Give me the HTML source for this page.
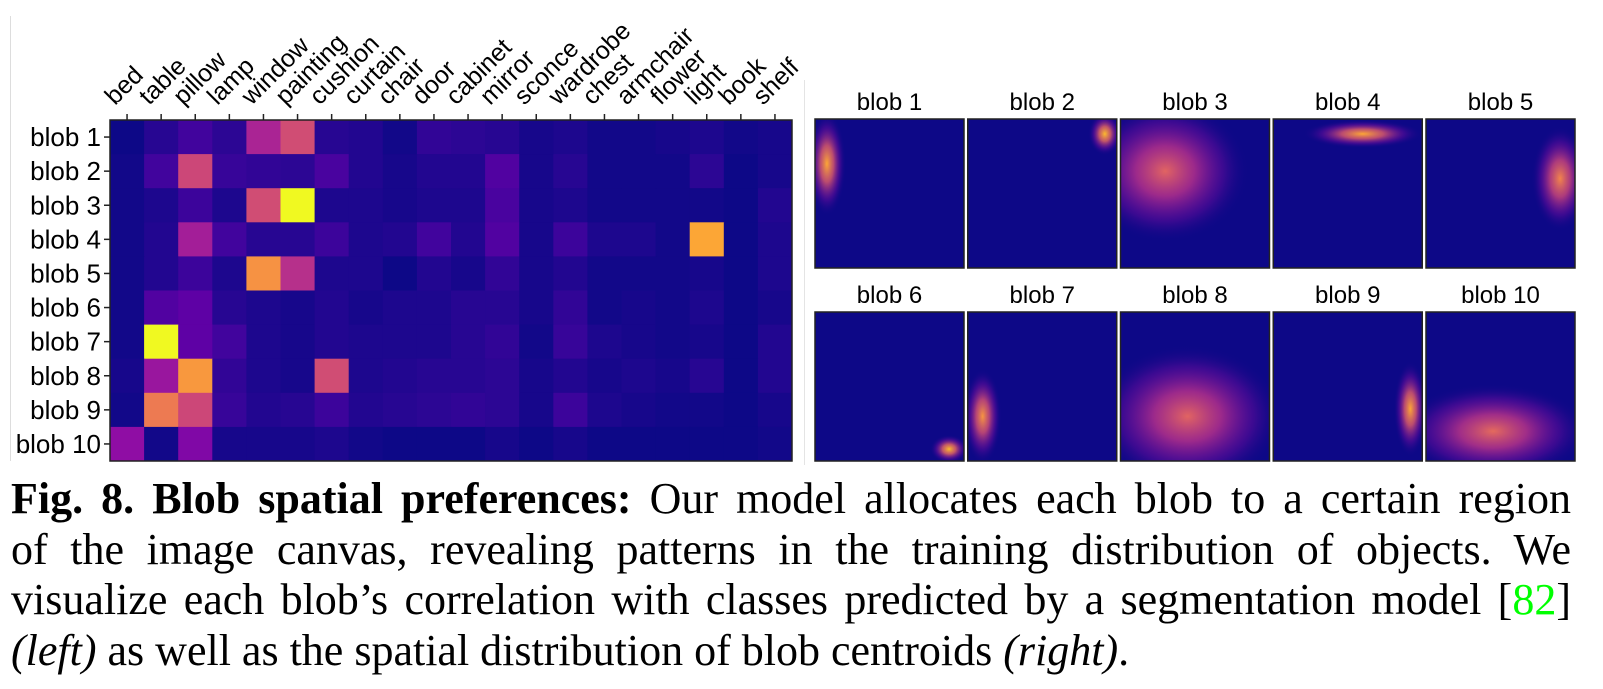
<!DOCTYPE html>
<html><head><meta charset="utf-8"><style>
body{margin:0;background:#fff;width:1603px;height:689px;overflow:hidden;position:relative}
svg{position:absolute;left:0;top:0}
.cap{position:absolute;left:11px;width:1560px;font-family:"Liberation Serif",serif;font-size:44px;color:#000;line-height:50.5px}
.cap div{text-align:justify;text-align-last:justify;white-space:nowrap}
.cap div.last{text-align-last:left}
</style></head><body>
<svg id="chart" width="1603" height="470"></svg>
<div class="cap" style="top:474px">
<div><b>Fig. 8. Blob spatial preferences:</b> Our model allocates each blob to a certain region</div>
<div>of the image canvas, revealing patterns in the training distribution of objects. We</div>
<div>visualize each blob’s correlation with classes predicted by a segmentation model [<span style="color:#00ff00">82</span>]</div>
<div class="last"><i>(left)</i> as well as the spatial distribution of blob centroids <i>(right)</i>.</div>
</div>
<script>
const classes=["bed","table","pillow","lamp","window","painting","cushion","curtain","chair","door","cabinet","mirror","sconce","wardrobe","chest","armchair","flower","light","book","shelf"];
const blobs=["blob 1","blob 2","blob 3","blob 4","blob 5","blob 6","blob 7","blob 8","blob 9","blob 10"];
const row1=[0.0,0.05,0.1,0.06,0.38,0.52,0.05,0.04,0.01,0.07,0.06,0.05,0.02,0.03,0.01,0.01,0.02,0.03,0.01,0.02];
const row2=[0.01,0.1,0.5,0.08,0.07,0.06,0.12,0.04,0.02,0.04,0.04,0.14,0.02,0.05,0.01,0.01,0.01,0.06,0.0,0.02];
const row3=[0.01,0.03,0.09,0.03,0.52,1.0,0.03,0.03,0.02,0.03,0.03,0.12,0.02,0.03,0.01,0.01,0.01,0.01,0.0,0.04];
const row4=[0.01,0.04,0.36,0.1,0.05,0.05,0.09,0.03,0.04,0.1,0.04,0.14,0.02,0.09,0.03,0.03,0.01,0.8,0.0,0.03];
const row5=[0.01,0.04,0.09,0.03,0.74,0.42,0.03,0.03,0.0,0.04,0.02,0.07,0.02,0.04,0.01,0.01,0.01,0.02,0.0,0.03];
const row6=[0.01,0.14,0.17,0.05,0.03,0.02,0.04,0.02,0.03,0.03,0.05,0.05,0.02,0.07,0.01,0.02,0.01,0.03,0.0,0.02];
const row7=[0.01,1.0,0.17,0.1,0.03,0.02,0.04,0.03,0.03,0.03,0.05,0.07,0.01,0.08,0.03,0.02,0.01,0.02,0.0,0.04];
const row8=[0.02,0.33,0.76,0.07,0.03,0.02,0.52,0.03,0.04,0.05,0.05,0.06,0.02,0.04,0.02,0.03,0.02,0.05,0.0,0.04];
const row9=[0.01,0.67,0.5,0.08,0.04,0.05,0.09,0.04,0.05,0.06,0.07,0.06,0.02,0.09,0.03,0.02,0.01,0.01,0.0,0.02];
const row10=[0.3,0.01,0.26,0.02,0.02,0.02,0.03,0.01,0.0,0.0,0.0,0.02,0.0,0.02,0.0,0.0,0.0,0.0,0.0,0.01];
const values=[row1,row2,row3,row4,row5,row6,row7,row8,row9,row10];
// spatial blob centroid distributions: center x, center y, spread x, spread y (normalized)
const blobCx=[0.08,0.92,0.3,0.6,0.9,0.9,0.1,0.45,0.92,0.45];
const blobCy=[0.3,0.1,0.35,0.1,0.4,0.92,0.7,0.7,0.65,0.8];
const blobSx=[0.08,0.07,0.35,0.25,0.12,0.08,0.08,0.4,0.07,0.4];
const blobSy=[0.22,0.09,0.3,0.06,0.22,0.06,0.2,0.3,0.2,0.2];
const blobPeak=[0.8,0.85,0.6,0.8,0.7,0.85,0.75,0.6,0.8,0.62];

const NS="http://www.w3.org/2000/svg";
const svg=document.getElementById('chart');
const plasma=["#0d0887","#41049d","#6a00a8","#8f0da4","#b12a90","#cc4778","#e16462","#f2844b","#fca636","#fcce25","#f0f921"];
function hex(c){return [1,3,5].map(i=>parseInt(c.substr(i,2),16));}
function cmap(v){v=Math.max(0,Math.min(1,v));const p=v*10,i=Math.min(9,Math.floor(p)),t=p-i;const a=hex(plasma[i]),b=hex(plasma[i+1]);return "rgb("+a.map((x,k)=>Math.round(x+(b[k]-x)*t)).join(",")+")";}
function el(t,attrs,parent){const e=document.createElementNS(NS,t);for(const k in attrs)e.setAttribute(k,attrs[k]);(parent||svg).appendChild(e);return e;}

const s1=el('line',{x1:10.5,y1:16,x2:10.5,y2:461,stroke:'#ddd','stroke-width':1});


const s2=el('line',{x1:804.5,y1:80,x2:804.5,y2:465,stroke:'#e4e4e4','stroke-width':1});



const X0=110,Y0=120,CW=(792-110)/classes.length,CH=(461-120)/blobs.length;
function xPos(j){return X0+j*CW;}
function yPos(i){return Y0+i*CH;}
const hm=el('g',{});


values.forEach((row,i)=>row.forEach((v,j)=>{
  const r=el('rect',{x:xPos(j),y:yPos(i),width:CW+0.5,height:CH+0.5,fill:cmap(v)},hm);
  
  
}));
const fr=el('rect',{x:X0,y:Y0,width:CW*classes.length,height:CH*blobs.length,fill:'none',stroke:'#222','stroke-width':1.5});


classes.forEach((c,j)=>{
  const cx=xPos(j)+CW/2;
  const tk=el('line',{x1:cx,y1:Y0-6,x2:cx,y2:Y0,stroke:'#222','stroke-width':1.5});
  
  
  const t=el('text',{x:cx-12,y:Y0-14,transform:`rotate(-45 ${cx-12} ${Y0-14})`,'font-family':'Liberation Sans, sans-serif','font-size':25,fill:'#000'});
  t.textContent=c;
  
  
});
blobs.forEach((b,i)=>{
  const cy=yPos(i)+CH/2;
  const tk=el('line',{x1:X0-6,y1:cy,x2:X0,y2:cy,stroke:'#222','stroke-width':1.5});
  
  
  const t=el('text',{x:X0-9,y:cy+9,'text-anchor':'end','font-family':'Liberation Sans, sans-serif','font-size':26,fill:'#000'});
  t.textContent=b;
  
  
});

const defs=el('defs',{});
const PW=149,PX0=815,PSTEP=152.75,PY=[119,312];
blobs.forEach((b,k)=>{
  const col=k%5,rw=Math.floor(k/5);
  const px=PX0+col*PSTEP,py=PY[rw];
  const g=el('g',{});
  
  
  const gid='gr'+k;
  const rg=el('radialGradient',{id:gid},defs);
  el('stop',{offset:'0','stop-color':cmap(blobPeak[k]),'stop-opacity':1},rg);
  el('stop',{offset:'0.35','stop-color':cmap(blobPeak[k]*0.7),'stop-opacity':0.85},rg);
  el('stop',{offset:'0.7','stop-color':'#8f0da4','stop-opacity':0.35},rg);
  el('stop',{offset:'1','stop-color':'#0d0887','stop-opacity':0},rg);
  const cp=el('clipPath',{id:'cp'+k},defs);
  el('rect',{x:px,y:py,width:PW,height:PW},cp);
  el('rect',{x:px,y:py,width:PW,height:PW,fill:'#0d0887'},g);
  const e=el('ellipse',{cx:px+blobCx[k]*PW,cy:py+blobCy[k]*PW,rx:blobSx[k]*PW*1.6,ry:blobSy[k]*PW*1.6,fill:`url(#${gid})`,'clip-path':`url(#cp${k})`},g);
  
  
  el('rect',{x:px,y:py,width:PW,height:PW,fill:'none',stroke:'#222','stroke-width':1.5},g);
  const t=el('text',{x:px+PW/2,y:py-9,'text-anchor':'middle','font-family':'Liberation Sans, sans-serif','font-size':24,fill:'#000'},g);
  t.textContent=b;
  
  
});
</script>
</body></html>
